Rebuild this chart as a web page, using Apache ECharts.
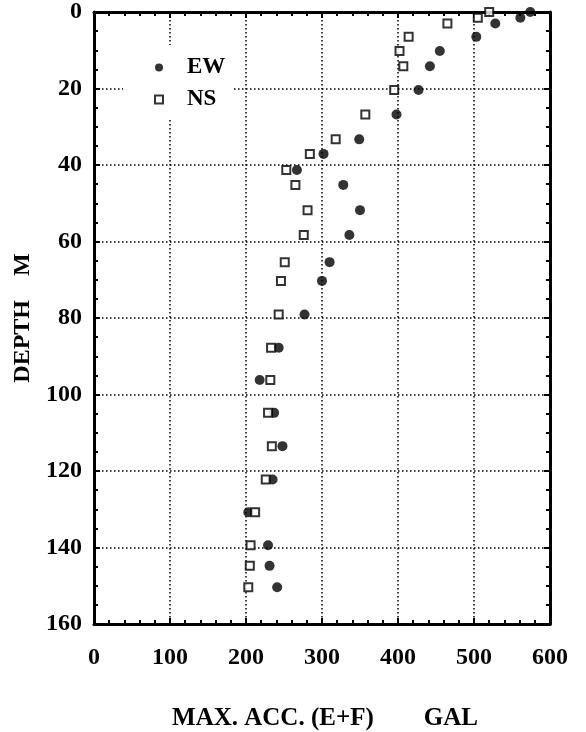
<!DOCTYPE html>
<html>
<head>
<meta charset="utf-8">
<script src="https://cdn.jsdelivr.net/npm/echarts@6/dist/echarts.min.js"></script>
<style>
  html, body { margin: 0; padding: 0; background: #fff; }
  #chart { width: 586px; height: 732px; }
</style>
</head>
<body>
<div id="chart"></div>
<script>
// depth (m) of each record, shared by both components
const depths = [0, 1.5, 3, 6.5, 10.2, 14.2, 20.4, 26.8, 33.3, 37.1, 41.3, 45.2, 51.8, 58.3,
  65.4, 70.3, 79.1, 87.8, 96.2, 104.8, 113.5, 122.2, 130.8, 139.4, 144.8, 150.4]
// max acceleration (gal)
const accEW = [574, 561, 528, 503, 455, 442, 427, 398, 349, 302, 267, 328, 350, 336,
  310, 300, 277, 243, 218, 237, 248, 235, 203, 229, 231, 241]
const accNS = [520, 505, 465, 414, 402, 407, 395, 357, 318, 284, 253, 265, 281, 276,
  251, 246, 243, 233, 232, 229, 234, 226, 212, 206, 205, 203]
const xTicks = [0, 100, 200, 300, 400, 500, 600]
const yTicks = [0, 20, 40, 60, 80, 100, 120, 140, 160]

const font = 'Liberation Serif'
const chart = echarts.init(document.getElementById('chart'))

const frame = {
  axisLine: { show: true, onZero: false, lineStyle: { color: '#000', width: 3 } },
  axisTick: { show: true, inside: true, length: 6, lineStyle: { color: '#000', width: 2 } },
  minorTick: { show: true, length: 4, lineStyle: { color: '#000', width: 2 } }
}
const dots = { show: true, lineStyle: { color: '#000', width: 1.5, type: [1.5, 2.5] } }
const label = { color: '#000', fontFamily: font, fontWeight: 'bold', fontSize: 24 }

const pairs = (xs) => xs.map((v, i) => [v, depths[i]])

chart.setOption({
  animation: false,
  backgroundColor: '#fff',
  grid: { left: 94, right: 36, top: 12, bottom: 108, outerBoundsMode: 'none' },
  legend: {
    data: [{ name: 'EW', icon: 'circle' }, { name: 'NS', icon: 'rect' }],
    orient: 'vertical',
    left: 123,
    top: 45,
    padding: [11, 8, 8, 31],
    itemGap: 9,
    itemWidth: 8,
    itemHeight: 8,
    backgroundColor: '#fff',
    textStyle: { color: '#000', fontFamily: font, fontWeight: 'bold', fontSize: 23, lineHeight: 23, padding: [0, 0, 0, 19] }
  },
  xAxis: [{
    type: 'value', position: 'bottom', min: xTicks[0], max: xTicks[xTicks.length - 1], interval: 100,
    ...frame, minorTick: { ...frame.minorTick, splitNumber: 5 },
    splitLine: dots,
    axisLabel: { ...label, margin: 22 },
    name: 'MAX. ACC. (E+F)        GAL',
    nameLocation: 'middle', nameGap: 82,
    nameTextStyle: { ...label, fontSize: 25, padding: [0, 0, 0, 6] }
  }, {
    type: 'value', position: 'top', min: xTicks[0], max: xTicks[xTicks.length - 1], interval: 100,
    ...frame, minorTick: { ...frame.minorTick, splitNumber: 5 },
    splitLine: { show: false }, axisLabel: { show: false }
  }],
  yAxis: [{
    type: 'value', position: 'left', inverse: true, min: yTicks[0], max: yTicks[yTicks.length - 1], interval: 20,
    ...frame, minorTick: { ...frame.minorTick, splitNumber: 4 },
    splitLine: dots,
    axisLabel: { ...label, margin: 12 },
    name: 'DEPTH    M',
    nameLocation: 'middle', nameGap: 58, nameRotate: 90,
    nameTextStyle: { ...label, fontSize: 24 }
  }, {
    type: 'value', position: 'right', inverse: true, min: yTicks[0], max: yTicks[yTicks.length - 1], interval: 20,
    ...frame, minorTick: { ...frame.minorTick, splitNumber: 4 },
    splitLine: { show: false }, axisLabel: { show: false }
  }],
  series: [{
    name: 'EW',
    type: 'scatter',
    symbol: 'circle',
    symbolSize: 10,
    itemStyle: { color: '#000' },
    data: pairs(accEW),
    z: 3
  }, {
    name: 'NS',
    type: 'scatter',
    symbol: 'rect',
    symbolSize: 8,
    itemStyle: { color: '#fff', borderColor: '#000', borderWidth: 2 },
    data: pairs(accNS),
    z: 4
  }]
})
</script>
</body>
</html>
